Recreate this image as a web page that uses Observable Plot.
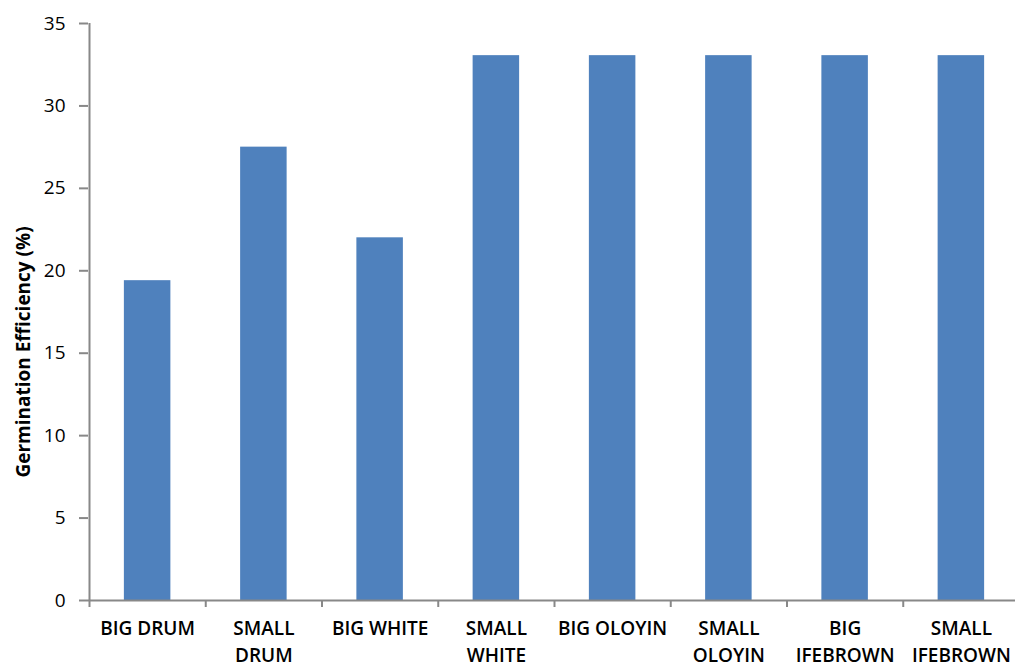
<!DOCTYPE html>
<html>
<head>
<meta charset="utf-8">
<script src="https://cdn.jsdelivr.net/npm/d3@7"></script>
<script src="https://cdn.jsdelivr.net/npm/@observablehq/plot@0.6"></script>
<style>
  html, body { margin: 0; padding: 0; background: #fff; overflow: hidden; }
  #chart svg { display: block; }
</style>
</head>
<body>
<div id="chart"></div>
<script>
const categories = ["BIG DRUM", "SMALL DRUM", "BIG WHITE", "SMALL WHITE", "BIG OLOYIN", "SMALL OLOYIN", "BIG IFEBROWN", "SMALL IFEBROWN"];
const tickLabels = ["BIG DRUM", "SMALL\nDRUM", "BIG WHITE", "SMALL\nWHITE", "BIG OLOYIN", "SMALL\nOLOYIN", "BIG\nIFEBROWN", "SMALL\nIFEBROWN"];
const values = [19.4, 27.5, 22.0, 33.05, 33.05, 33.05, 33.05, 33.05];
const yTicks = [0, 5, 10, 15, 20, 25, 30, 35];
const yLabel = "Germination Efficiency (%)";

const idx = categories.map((c, i) => i);
const font = "'Open Sans', Lato, sans-serif";

const chart = Plot.plot({
  width: 1015,
  height: 668,
  marginLeft: 88,
  marginRight: 0,
  marginTop: 23,
  marginBottom: 68,
  style: { fontFamily: font, fontSize: "19px", color: "#000", background: "#fff" },
  x: { domain: [0, categories.length], range: [89, 1019] },
  y: { domain: [0, 35] },
  marks: [
    Plot.rectY(idx, { x1: i => i + 0.3, x2: i => i + 0.7, y1: 0, y2: i => values[i], fill: "#4F81BD" }),
    Plot.ruleY([0], { stroke: "#888", strokeWidth: 2 }),
    Plot.ruleX([0], { y1: 0, y2: 35, stroke: "#888", strokeWidth: 2 }),
    Plot.axisX({ ticks: d3.range(categories.length + 1), tickFormat: () => "", tickSize: 7, stroke: "#888", strokeWidth: 2, label: null }),
    Plot.axisY({ ticks: yTicks, tickSize: 9, tickPadding: 14, stroke: "#888", strokeWidth: 2, fill: "#000", fontSize: 19, label: null }),
    Plot.text(idx, { x: i => i + 0.5, y: 0, text: i => tickLabels[i], lineAnchor: "top", dy: 15, lineHeight: 1.42, fontSize: 19, fontWeight: 600, fill: "#000" }),
    Plot.text([yLabel], { frameAnchor: "left", textAnchor: "middle", lineAnchor: "middle", rotate: -90, dx: -65, dy: 40, fontWeight: "bold", fontSize: 19, fill: "#000" })
  ]
});
document.getElementById("chart").append(chart);
</script>
</body>
</html>
